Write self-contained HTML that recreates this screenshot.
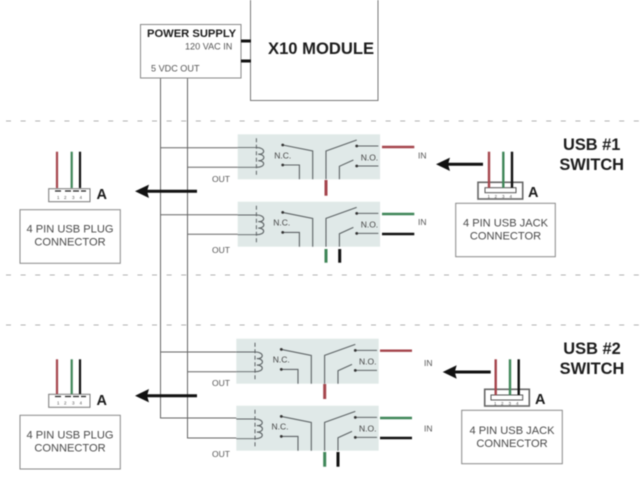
<!DOCTYPE html>
<html><head><meta charset="utf-8"><style>
html,body{margin:0;padding:0;background:#fff;width:640px;height:480px;overflow:hidden}
svg{display:block;filter:blur(.4px)}
text{font-family:"Liberation Sans",sans-serif;fill:#444}
.b{font-weight:bold;fill:#1c1c1c}
.s{font-size:8.5px;fill:#555}
.m{font-size:11.1px;text-anchor:middle;fill:#4a4a4a}
.t{font-size:16.4px;text-anchor:middle;font-weight:bold;fill:#1c1c1c}
.a{font-size:14.5px;font-weight:bold;fill:#1c1c1c}
.c{font-size:8.5px;fill:#444}
.n{font-size:4.5px;fill:#555}
.v{font-size:9.1px;fill:#555}
</style></head><body>
<svg width="640" height="480" viewBox="0 0 640 480" xmlns="http://www.w3.org/2000/svg">
<defs>
<g id="relay">
<rect x="0" y="0" width="142.4" height="45" fill="#e0e9e8"/>
<g fill="none" stroke="#5c6264" stroke-width="1">
<path d="M0 13.3H19M0 33H19" stroke-width=".9"/>
<path d="M18.7 4V40.7" stroke-dasharray="4 2.5"/>
<path d="M19 13.3c9 0 9 7 1.500 6.600c7.500 0 7.500 6.500 0 6.500c7.500 0 7.500 6.600-1.500 6.600" stroke-width="1.100"/>
<path d="M45 10.700L75 16.700V45M45 30.700H61.700V45" stroke-width="1.100"/>
<path d="M88.300 45V16.700L119 5.700M101.700 45V32L115.700 25.700" stroke-width="1.100"/>
<path d="M119 11.700H140.700M119 31.700H140.700" stroke-width="1"/>
</g>
<g fill="#333"><circle cx="45" cy="10.700" r="1.400"/><circle cx="45" cy="30.700" r="1.400"/><circle cx="119" cy="11.700" r="1.400"/><circle cx="119" cy="31.700" r="1.400"/></g>
</g>
</defs>

<!-- dashed separators -->
<g stroke="#b0b0b0" stroke-width="1" stroke-dasharray="5 9.6" fill="none">
<path d="M6 121H640M6 275H640M6 325H640"/>
</g>

<!-- power wires -->
<g stroke="#666" stroke-width="1" fill="none">
<path d="M160.500 78V418H237M187.500 78V438H237"/>
<path d="M160.500 147.700H238M187.500 167.300H238M160.500 214.700H238M187.500 234.300H238M160.500 352H237M187.500 371.700H237"/>
</g>

<!-- power supply + module -->
<rect x="140.500" y="24.500" width="100.500" height="53.500" fill="#fff" stroke="#888" stroke-width="1"/>
<path d="M250.500 0V100.500H378V0" fill="#fff" stroke="#777" stroke-width="1"/>
<path d="M241 41H251M241 61H251" stroke="#111" stroke-width="3"/>
<text class="b" x="147" y="37" font-size="11.200">POWER SUPPLY</text>
<text class="v" x="185" y="49.300">120 VAC IN</text>
<text class="v" x="151" y="71.300">5 VDC OUT</text>
<text class="b" x="268" y="54" font-size="16.600">X10 MODULE</text>

<!-- relays -->
<use href="#relay" x="237.700" y="134.300"/>
<use href="#relay" x="237.700" y="201.700"/>
<use href="#relay" x="236.300" y="338.700"/>
<use href="#relay" x="236.300" y="405.700"/>

<text class="c" x="274.300" y="158.300">N.C.</text><text class="c" x="360.700" y="160.300">N.O.</text>
<text class="c" x="273.300" y="225.300">N.C.</text><text class="c" x="360.700" y="227.300">N.O.</text>
<text class="c" x="272.800" y="362.300">N.C.</text><text class="c" x="359" y="364.300">N.O.</text>
<text class="c" x="271.500" y="429.300">N.C.</text><text class="c" x="359" y="431.300">N.O.</text>

<text class="s" x="212" y="182">OUT</text>
<text class="s" x="212" y="253">OUT</text>
<text class="s" x="212" y="386">OUT</text>
<text class="s" x="212" y="457">OUT</text>
<text class="s" x="418" y="158.700">IN</text>
<text class="s" x="418" y="225">IN</text>
<text class="s" x="424" y="366">IN</text>
<text class="s" x="424" y="431.700">IN</text>

<!-- relay wires -->
<g fill="none" stroke-width="2.400">
<path d="M382 147H414.300" stroke="#a5454c"/>
<path d="M326 180V195.700" stroke="#a5454c" stroke-width="3"/>
<path d="M382 214H414.300" stroke="#3f8658"/>
<path d="M382 234H414.300" stroke="#111"/>
<path d="M326 249V262.700" stroke="#3f8658" stroke-width="3"/>
<path d="M339.700 249V262.700" stroke="#111" stroke-width="3"/>
<path d="M380 350.700H412" stroke="#a5454c"/>
<path d="M324.700 384V399" stroke="#a5454c" stroke-width="3"/>
<path d="M380 418H412" stroke="#3f8658"/>
<path d="M380 438H412" stroke="#111"/>
<path d="M324.700 452V466.700" stroke="#3f8658" stroke-width="3"/>
<path d="M338 452V466.700" stroke="#111" stroke-width="3"/>
</g>

<!-- thick arrows -->
<g fill="#111" stroke="#111">
<path d="M146 191.300H197" stroke-width="3" fill="none"/>
<path d="M135 191.300L149 184.600L147 191.300L149 198Z" stroke="none"/>
<path d="M146 395.700H197" stroke-width="3" fill="none"/>
<path d="M135 395.700L149 389L147 395.700L149 402.400Z" stroke="none"/>
<path d="M447 164.300H483" stroke-width="3" fill="none"/>
<path d="M436 164.300L450 157.600L448 164.300L450 171Z" stroke="none"/>
<path d="M453 372H490.700" stroke-width="3" fill="none"/>
<path d="M442.700 372L456.700 365.300L454.700 372L456.700 378.700Z" stroke="none"/>
</g>

<!-- plug 1 -->
<rect x="48.700" y="188.700" width="41.300" height="13" fill="#fff" stroke="#777" stroke-width="1"/>
<path d="M55 191H61M65 191H71M73 191H79M81 191H86" stroke="#222" stroke-width="1.200"/>
<text class="n" x="57" y="199">1</text><text class="n" x="64" y="199">2</text><text class="n" x="72" y="199">3</text><text class="n" x="79.500" y="199">4</text>
<path d="M57 151.700V188" stroke="#a5454c" stroke-width="2.200"/>
<path d="M71.700 151.700V188" stroke="#3f8658" stroke-width="2.200"/>
<path d="M80 151.700V188" stroke="#111" stroke-width="2.200"/>
<text class="a" x="96.500" y="199.200">A</text>
<rect x="20" y="209.700" width="100.300" height="53.600" fill="#fff" stroke="#888" stroke-width="1"/>
<text class="m" x="70" y="232.700">4 PIN USB PLUG</text>
<text class="m" x="70" y="245.700">CONNECTOR</text>

<!-- plug 2 -->
<rect x="48.700" y="394.300" width="41.300" height="13" fill="#fff" stroke="#777" stroke-width="1"/>
<path d="M55 396.500H61M65 396.500H71M73 396.500H79M81 396.500H86" stroke="#222" stroke-width="1.200"/>
<text class="n" x="57" y="404.500">1</text><text class="n" x="64" y="404.500">2</text><text class="n" x="72" y="404.500">3</text><text class="n" x="79.500" y="404.500">4</text>
<path d="M57 359.300V394" stroke="#a5454c" stroke-width="2.200"/>
<path d="M71.700 359.300V394" stroke="#3f8658" stroke-width="2.200"/>
<path d="M80 359.300V394" stroke="#111" stroke-width="2.200"/>
<text class="a" x="96.500" y="405.200">A</text>
<rect x="20" y="415.300" width="100.300" height="53.700" fill="#fff" stroke="#888" stroke-width="1"/>
<text class="m" x="70" y="438.500">4 PIN USB PLUG</text>
<text class="m" x="70" y="451.700">CONNECTOR</text>

<!-- jack 1 -->
<rect x="478" y="182.300" width="44.700" height="16.700" fill="#fff" stroke="#666" stroke-width="1.600"/>
<rect x="485" y="187.700" width="31" height="5" fill="#fff" stroke="#555" stroke-width="1"/>
<text class="n" x="487.500" y="198">1</text><text class="n" x="494.500" y="198">2</text><text class="n" x="502" y="198">3</text><text class="n" x="509.500" y="198">4</text>
<path d="M489 151.700V187.700" stroke="#a5454c" stroke-width="2.400"/>
<path d="M503.300 151.700V187.700" stroke="#3f8658" stroke-width="2.400"/>
<path d="M512 151.700V187.700" stroke="#111" stroke-width="2.400"/>
<text class="a" x="528" y="197.200">A</text>
<rect x="455.700" y="203.300" width="99.600" height="53.400" fill="#fff" stroke="#888" stroke-width="1"/>
<text class="m" x="505.500" y="226.500">4 PIN USB JACK</text>
<text class="m" x="505.500" y="239.700">CONNECTOR</text>
<text class="t" x="591.700" y="150">USB #1</text>
<text class="t" x="591.700" y="170">SWITCH</text>

<!-- jack 2 -->
<rect x="484.700" y="389.300" width="44.600" height="16.700" fill="#fff" stroke="#666" stroke-width="1.600"/>
<rect x="491" y="395" width="31.700" height="5" fill="#fff" stroke="#555" stroke-width="1"/>
<text class="n" x="494" y="405">1</text><text class="n" x="501" y="405">2</text><text class="n" x="508.500" y="405">3</text><text class="n" x="516" y="405">4</text>
<path d="M495.700 359.300V395" stroke="#a5454c" stroke-width="2.400"/>
<path d="M510 359.300V395" stroke="#3f8658" stroke-width="2.400"/>
<path d="M518.700 359.300V395" stroke="#111" stroke-width="2.400"/>
<text class="a" x="535" y="404.200">A</text>
<rect x="461.700" y="410.300" width="100.600" height="53.400" fill="#fff" stroke="#888" stroke-width="1"/>
<text class="m" x="512" y="433.800">4 PIN USB JACK</text>
<text class="m" x="512" y="447">CONNECTOR</text>
<text class="t" x="592" y="354">USB #2</text>
<text class="t" x="592" y="374">SWITCH</text>
</svg>
</body></html>
